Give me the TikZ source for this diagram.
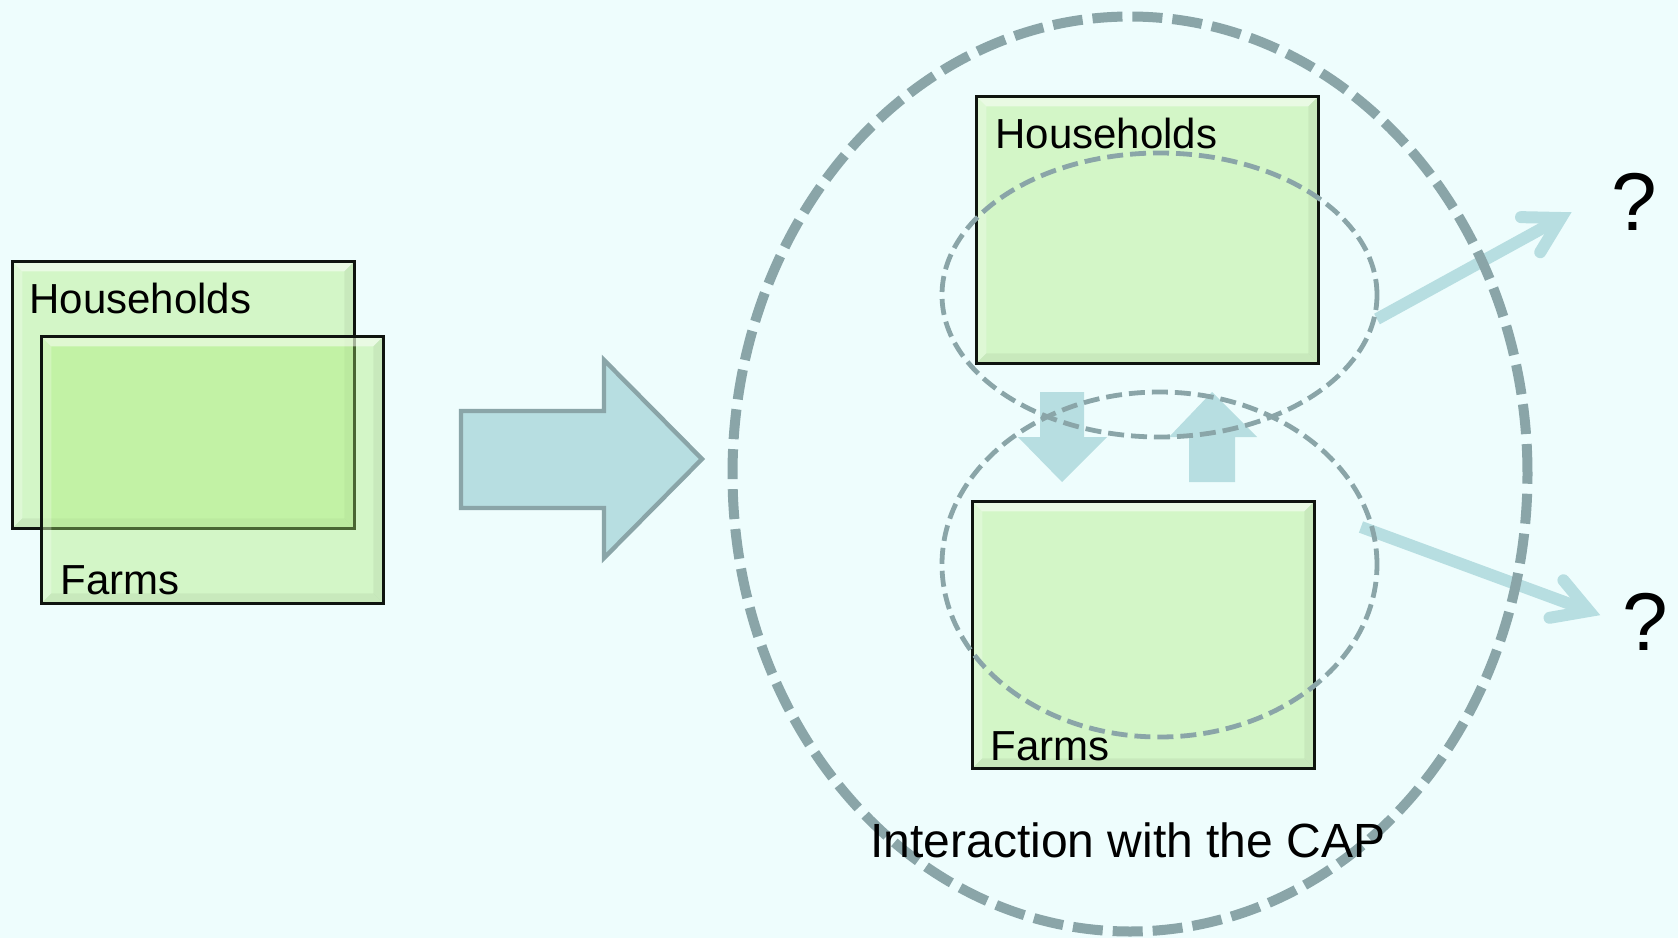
\documentclass[tikz,border=0pt]{standalone}
\usepackage{fontspec}
\setmainfont{Liberation Sans}
\usetikzlibrary{shapes.geometric,calc}

\definecolor{bg}{RGB}{238,253,253}
\definecolor{boxgreen}{RGB}{168,236,112}
\definecolor{flowblue}{RGB}{183,222,225}
\definecolor{rimgrey}{RGB}{138,165,168}
\definecolor{edgedark}{RGB}{15,20,15}

\begin{document}
\begin{tikzpicture}[x=0.5pt,y=-0.5pt,
  % bevelled translucent green panel
  panel/.style={draw=edgedark, line width=1.3pt, fill=boxgreen, fill opacity=0.38,
    draw opacity=1, inner sep=0pt, anchor=north west,
    minimum width=171pt, minimum height=133.5pt,
    path picture={
      \path (path picture bounding box.north west) coordinate (pnw)
            (path picture bounding box.south east) coordinate (pse);
      \fill[white, fill opacity=0.5] (pnw) -- (pnw -| pse) -- ++(-5pt,-5pt)
            -- ($(pnw)+(5pt,-5pt)$) -- cycle;
      \fill[white, fill opacity=0.25] (pnw) -- ($(pnw)+(5pt,-5pt)$)
            -- ($(pnw |- pse)+(5pt,5pt)$) -- (pnw |- pse) -- cycle;
      \fill[black, fill opacity=0.05] (pse) -- (pse |- pnw) -- ++(-5pt,-5pt)
            -- ($(pse)+(-5pt,5pt)$) -- cycle;
      \fill[black, fill opacity=0.05] (pse) -- (pse -| pnw) -- ++(5pt,5pt)
            -- ($(pse)+(-5pt,5pt)$) -- cycle;
    }},
  label text/.style={font=\fontsize{21pt}{25pt}\selectfont, inner sep=0pt, anchor=base west},
  big ring/.style={ellipse, draw=rimgrey, line width=5pt, dash pattern=on 15pt off 5pt, inner sep=0pt},
  small ring/.style={ellipse, draw=rimgrey, line width=2.4pt, dash pattern=on 8pt off 3.5pt, inner sep=0pt},
  block arrow/.style={fill=flowblue, draw=none},
  out shaft/.style={draw=flowblue, line width=6pt, line cap=butt},
  out head/.style={draw=flowblue, line width=6pt, line cap=round, line join=miter},
  query/.style={font=\fontsize{41pt}{48pt}\selectfont, inner sep=0pt, anchor=base}
]
% canvas
\fill[bg] (0,0) rectangle (1678,938);
\useasboundingbox (0,0) rectangle (1678,938);

% before: overlapping households and farms
\node[panel] (hhL) at (11,260) {};
\node[panel] (fmL) at (40,335) {};

% transition arrow
\draw[fill=flowblue, draw=rimgrey, line width=2.2pt, line join=miter]
  (461,411) -- (604,411) -- (604,360) -- (702,459) -- (604,558) -- (604,508) -- (461,508) -- cycle;

% after: separate households and farms
\node[panel] (hhR) at (975,95) {};
\node[panel] (fmR) at (971,500) {};

% exchange arrows between the two panels
\fill[block arrow] (1040,392) -- (1084,392) -- (1084,437) -- (1107,437) -- (1062,482)
  -- (1018,437) -- (1040,437) -- cycle;
\fill[block arrow] (1189,482) -- (1235,482) -- (1235,437) -- (1257,437) -- (1212,392)
  -- (1169,437) -- (1189,437) -- cycle;

% outgoing arrows towards the open questions
\coordinate (s1) at (1377,319);
\coordinate (v1) at (1561,218);
\coordinate (s2) at (1361,527);
\coordinate (v2) at (1589,611);
\draw[out shaft] (s1) -- (v1);
\draw[out head] ($(v1)!20pt!30:(s1)$) -- (v1) -- ($(v1)!20pt!-30:(s1)$);
\draw[out shaft] (s2) -- (v2);
\draw[out head] ($(v2)!20pt!30:(s2)$) -- (v2) -- ($(v2)!20pt!-30:(s2)$);

% dashed rings
\node[small ring, minimum width=217.5pt, minimum height=142pt] (ringH) at (1159.5,295) {};
\node[small ring, minimum width=217.5pt, minimum height=172.5pt] (ringF) at (1159.5,564.5) {};
\node[big ring, minimum width=397.5pt, minimum height=457.5pt] (cap) at (1130,474) {};

% labels
\node[label text] (hhLt) at ($(hhL.north west)+(18,53)$) {Households};
\node[label text] (fmLt) at ($(fmL.south west)+(20,-10)$) {Farms};
\node[label text] (hhRt) at ($(hhR.north west)+(20,53)$) {Households};
\node[label text] (fmRt) at ($(fmR.south west)+(19,-9)$) {Farms};
\node[font=\fontsize{24pt}{28pt}\selectfont, inner sep=0pt, anchor=base] (capt) at (1128,857)
  {Interaction with the CAP};
\node[query] (q1) at (1634,230) {?};
\node[query] (q2) at (1645,650) {?};
\end{tikzpicture}
\end{document}
